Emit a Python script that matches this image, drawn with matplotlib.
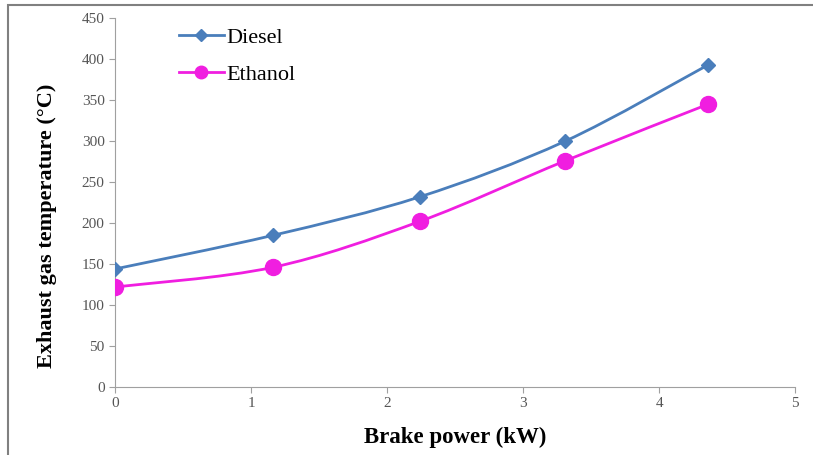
import numpy as np
import matplotlib.pyplot as plt
from matplotlib.path import Path
from matplotlib.patches import PathPatch, Rectangle
from matplotlib.lines import Line2D

plt.rcParams['font.family'] = ['Liberation Serif', 'DejaVu Serif']

# brake power (kW) and exhaust gas temperature (deg C)
power = [0.0, 1.16, 2.24, 3.31, 4.36]
diesel = [144, 185, 232, 300, 393]
ethanol = [122, 146, 202, 276, 345]

blue = '#4a7ebb'
pink = '#f01ee0'


def smooth_path(xs, ys):
    # Catmull-Rom style bezier through the points (like spreadsheet "smoothed line")
    x = np.asarray(xs, float)
    y = np.asarray(ys, float)
    verts = [(x[0], y[0])]
    codes = [Path.MOVETO]
    n = len(x)
    for i in range(n - 1):
        i0 = max(i - 1, 0)
        i3 = min(i + 2, n - 1)
        c1 = (x[i] + (x[i + 1] - x[i0]) / 6, y[i] + (y[i + 1] - y[i0]) / 6)
        c2 = (x[i + 1] - (x[i3] - x[i]) / 6, y[i + 1] - (y[i3] - y[i]) / 6)
        verts += [c1, c2, (x[i + 1], y[i + 1])]
        codes += [Path.CURVE4] * 3
    return Path(verts, codes)


fig = plt.figure(figsize=(8.13, 4.55), dpi=100)
ax = fig.add_axes([0.1415, 0.1495, 0.8365, 0.8105])

ax.add_patch(PathPatch(smooth_path(power, diesel), fill=False, color=blue, lw=2))
ax.add_patch(PathPatch(smooth_path(power, ethanol), fill=False, color=pink, lw=2))
ax.plot(power, diesel, ls='none', marker='D', ms=7.5, color=blue, zorder=3)
ax.plot(power, ethanol, ls='none', marker='o', ms=11.5, color=pink, zorder=3)

ax.set_xlim(0, 5)
ax.set_ylim(0, 450)
ax.set_xticks(range(6))
ax.set_yticks(range(0, 451, 50))

for side in ['top', 'right']:
    ax.spines[side].set_visible(False)
for side in ['left', 'bottom']:
    ax.spines[side].set_color('#a0a0a0')
ax.tick_params(colors='#a0a0a0', labelcolor='#555555', labelsize=11, length=4)

ax.set_xlabel('Brake power (kW)', fontsize=16.5, fontweight='bold', labelpad=12)
ax.set_ylabel('Exhaust gas temperature (°C)', fontsize=16, fontweight='bold')
ax.yaxis.set_label_coords(-0.086, 0.436)

handles = [Line2D([], [], color=blue, lw=2, marker='D', ms=6),
           Line2D([], [], color=pink, lw=2, marker='o', ms=9)]
ax.legend(handles, ['Diesel', 'Ethanol'], loc='upper left', bbox_to_anchor=(0.065, 1.03),
          frameon=False, fontsize=16, handlelength=2.0, handletextpad=0.1, labelspacing=0.75)

# thin border around the whole figure
fig.add_artist(Rectangle((8 / 813, -0.05), 1.2, 1.05 - 5 / 455, transform=fig.transFigure,
                         fill=False, ec='#808080', lw=1.5))

fig.savefig('out.png', dpi=100)
